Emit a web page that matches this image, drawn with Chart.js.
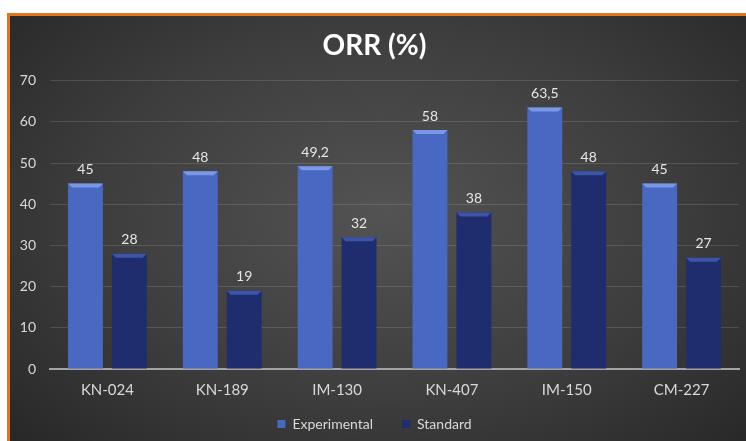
<!DOCTYPE html>
<html>
<head>
<meta charset="utf-8">
<script src="https://cdn.jsdelivr.net/npm/chart.js@4"></script>
<style>
    html, body { margin: 0; padding: 0; background: #fff; width: 746px; height: 441px; overflow: hidden; }
    #frame {
        position: absolute; left: 7px; top: 13px; width: 750px; height: 440px;
        border: 3px solid #e2761f;
        background: radial-gradient(ellipse at 50% 45%, #535353 0%, #3d3d3d 55%, #262626 100%);
    }
    #wrap { position: absolute; left: 0; top: 0; width: 736px; height: 425px; }
</style>
</head>
<body>
<div id="frame"><div id="wrap"><canvas id="orr"></canvas></div></div>
<script>
(function () {
    "use strict";

    const trials = ["KN-024", "KN-189", "IM-130", "KN-407", "IM-150", "CM-227"];
    const experimental = [45, 48, 49.2, 58, 63.5, 45];
    const standard = [28, 19, 32, 38, 48, 27];
    const yTicks = [0, 10, 20, 30, 40, 50, 60, 70];

    const FONT = "Lato, 'Open Sans', sans-serif";

    // horizontal shading so bars look bevelled
    function barFill(edge, mid) {
        return (ctx) => {
            const el = ctx.element;
            if (!el || !Number.isFinite(el.x) || !Number.isFinite(el.width)) return mid;
            const half = el.width / 2;
            const g = ctx.chart.ctx.createLinearGradient(el.x - half, 0, el.x + half, 0);
            g.addColorStop(0, edge);
            g.addColorStop(0.08, mid);
            g.addColorStop(0.92, mid);
            g.addColorStop(1, edge);
            return g;
        };
    }

    const bevelTop = {
        id: "bevelTop",
        afterDatasetsDraw(chart) {
            const c = chart.ctx;
            const tops = ["#7a98e6", "#3d55a8"];
            chart.data.datasets.forEach((ds, i) => {
                chart.getDatasetMeta(i).data.forEach((bar) => {
                    const l = bar.x - bar.width / 2, r = bar.x + bar.width / 2, t = bar.y;
                    c.save();
                    c.fillStyle = tops[i];
                    c.beginPath();
                    c.moveTo(l, t);
                    c.lineTo(r, t);
                    c.lineTo(r - 4, t + 4);
                    c.lineTo(l + 4, t + 4);
                    c.closePath();
                    c.fill();
                    c.restore();
                });
            });
        },
    };

    const valueLabels = {
        id: "valueLabels",
        afterDatasetsDraw(chart) {
            const c = chart.ctx;
            c.save();
            c.font = "14px " + FONT;
            c.fillStyle = "#e6e6e6";
            c.textAlign = "center";
            c.textBaseline = "bottom";
            chart.data.datasets.forEach((ds, i) => {
                chart.getDatasetMeta(i).data.forEach((bar, j) => {
                    const txt = String(ds.data[j]).replace(".", ",");
                    c.fillText(txt, bar.x, bar.y - 7);
                });
            });
            c.restore();
        },
    };

    new Chart(document.getElementById("orr"), {
        type: "bar",
        data: {
            labels: trials,
            datasets: [
                {
                    label: "Experimental",
                    data: experimental,
                    backgroundColor: barFill("#3552a3", "#4868c2"),
                    borderWidth: 0,
                    categoryPercentage: 0.765,
                    barPercentage: 0.795,
                },
                {
                    label: "Standard",
                    data: standard,
                    backgroundColor: barFill("#172155", "#1f2d6f"),
                    borderWidth: 0,
                    categoryPercentage: 0.765,
                    barPercentage: 0.795,
                },
            ],
        },
        options: {
            responsive: true,
            maintainAspectRatio: false,
            animation: false,
            layout: { padding: { left: 0, right: 7, top: 0, bottom: 0 } },
            plugins: {
                title: {
                    display: true,
                    text: "ORR (%)",
                    color: "#ffffff",
                    font: { family: FONT, size: 28, weight: "bold" },
                    padding: { top: 13, bottom: 18 },
                },
                legend: {
                    position: "bottom",
                    labels: {
                        color: "#d9d9d9",
                        font: { family: FONT, size: 14 },
                        boxWidth: 8,
                        boxHeight: 8,
                        padding: 8,
                        generateLabels(chart) {
                            const fills = ["#4868c2", "#1f2d6f"];
                            // trailing em spaces widen the gap between the two items
                            return chart.data.datasets.map((ds, i) => ({
                                text: i === 0 ? ds.label + "\u2003\u2003" : ds.label,
                                fillStyle: fills[i],
                                strokeStyle: fills[i],
                                lineWidth: 0,
                                fontColor: "#d9d9d9",
                                datasetIndex: i,
                            }));
                        },
                    },
                },
                tooltip: { enabled: false },
            },
            scales: {
                x: {
                    grid: { display: false, drawTicks: false },
                    border: { display: true, color: "#a3a3a3", width: 2 },
                    ticks: {
                        color: "#d9d9d9",
                        font: { family: FONT, size: 15 },
                        padding: 12,
                    },
                    afterFit(scale) { scale.height = 40; },
                },
                y: {
                    min: 0,
                    max: 70,
                    afterBuildTicks(scale) {
                        scale.ticks = yTicks.map((v) => ({ value: v }));
                    },
                    grid: { color: "rgba(255,255,255,0.13)", drawTicks: false },
                    border: { display: false },
                    ticks: {
                        color: "#d9d9d9",
                        font: { family: FONT, size: 14 },
                        padding: 14,
                    },
                    afterFit(scale) { scale.width = 40; },
                },
            },
        },
        plugins: [bevelTop, valueLabels],
    });
})();
</script>
</body>
</html>
